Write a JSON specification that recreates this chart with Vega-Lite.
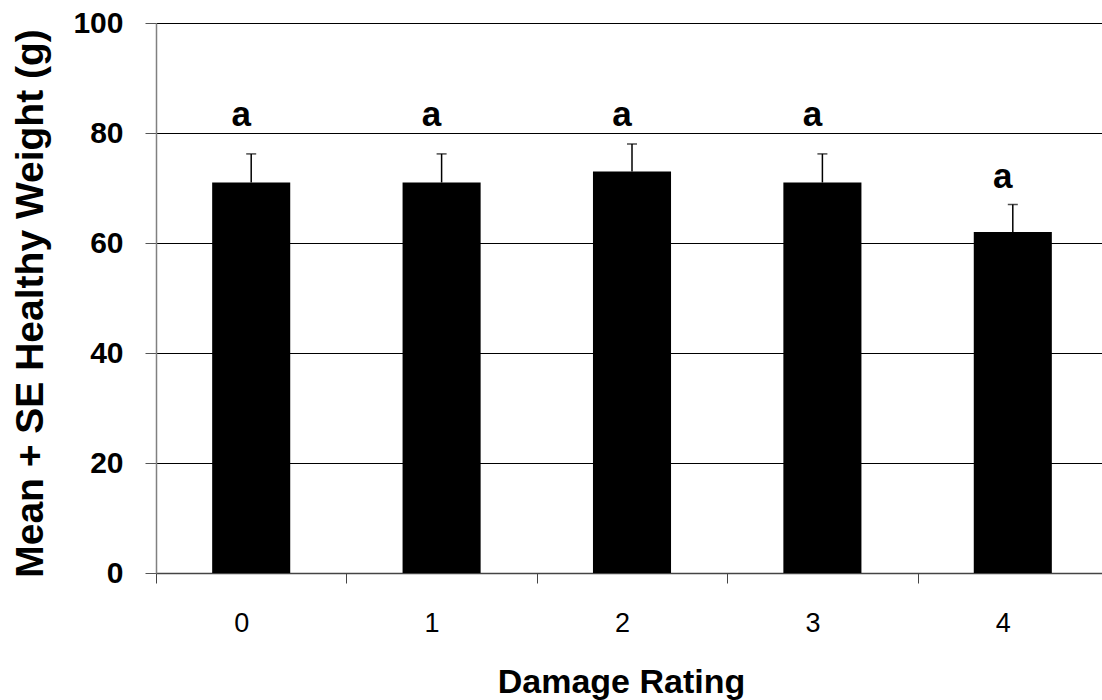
{
  "$schema": "https://vega.github.io/schema/vega-lite/v6.json",
  "width": 946,
  "height": 550,
  "autosize": {"type": "none"},
  "padding": {"left": 156, "top": 23, "right": 0, "bottom": 127},
  "background": "white",
  "config": {"view": {"stroke": null}, "font": "Liberation Sans"},
  "data": {
    "values": [
      {"rating": "0", "mean": 71, "upper": 76.2, "sig": "a", "label_pos": 81.3},
      {"rating": "1", "mean": 71, "upper": 76.2, "sig": "a", "label_pos": 81.3},
      {"rating": "2", "mean": 73, "upper": 78, "sig": "a", "label_pos": 81.3},
      {"rating": "3", "mean": 71, "upper": 76.2, "sig": "a", "label_pos": 81.3},
      {"rating": "4", "mean": 62, "upper": 67, "sig": "a", "label_pos": 70}
    ]
  },
  "encoding": {
    "x": {
      "field": "rating",
      "type": "nominal",
      "sort": null,
      "scale": {"range": [0, 952], "paddingInner": 0, "paddingOuter": 0},
      "axis": {
        "title": "Damage Rating",
        "titleFontSize": 34,
        "titleFontWeight": "bold",
        "titleColor": "black",
        "titleX": 465,
        "titleY": 119,
        "titleBaseline": "alphabetic",
        "labelAngle": 0,
        "labelFontSize": 27,
        "labelFontWeight": "normal",
        "labelColor": "black",
        "labelPadding": 27,
        "labelOffset": -10,
        "tickBand": "extent",
        "tickSize": 10,
        "tickColor": "#444444",
        "tickWidth": 1,
        "domainColor": "#444444",
        "domainWidth": 1.5
      }
    }
  },
  "layer": [
    {
      "mark": {"type": "bar", "color": "black", "width": {"band": 0.41}},
      "encoding": {
        "y": {
          "field": "mean",
          "type": "quantitative",
          "scale": {"domain": [0, 100]},
          "axis": {
            "title": "Mean + SE Healthy Weight (g)",
            "titleFontSize": 39,
            "titleFontWeight": "bold",
            "titleColor": "black",
            "titleX": -114,
            "titleY": 280,
            "titleBaseline": "alphabetic",
            "values": [0, 20, 40, 60, 80, 100],
            "grid": true,
            "gridColor": "black",
            "gridWidth": 1,
            "gridOpacity": 1,
            "labelFontSize": 30,
            "labelFontWeight": "bold",
            "labelColor": "black",
            "labelPadding": 22,
            "tickSize": 11,
            "tickColor": "#555555",
            "domainColor": "#808080",
            "domainWidth": 1.5
          }
        }
      }
    },
    {
      "mark": {"type": "rule", "color": "black", "strokeWidth": 1.5},
      "encoding": {
        "y": {"field": "mean", "type": "quantitative"},
        "y2": {"field": "upper"}
      }
    },
    {
      "mark": {"type": "tick", "color": "black", "thickness": 1.5, "size": 10},
      "encoding": {
        "y": {"field": "upper", "type": "quantitative"}
      }
    },
    {
      "mark": {"type": "text", "fontSize": 35, "fontWeight": "bold", "baseline": "alphabetic", "color": "black", "dx": -10},
      "encoding": {
        "y": {"field": "label_pos", "type": "quantitative"},
        "text": {"field": "sig"}
      }
    }
  ]
}
